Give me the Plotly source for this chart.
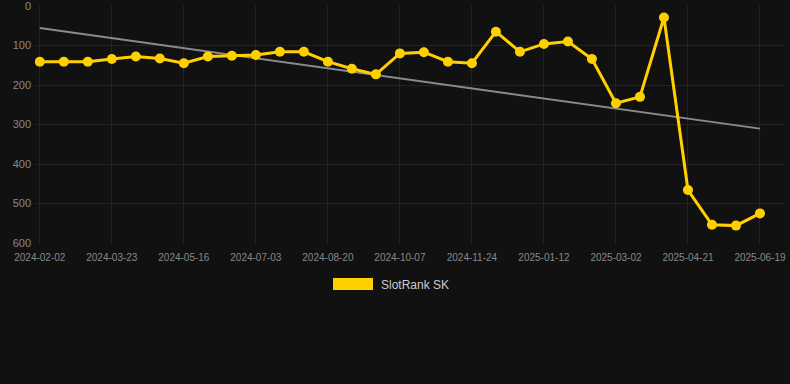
import numpy as np
import plotly.graph_objects as go

dates = ["2024-02-02", "2024-02-18", "2024-03-06", "2024-03-23", "2024-04-09", "2024-04-28",
         "2024-05-16", "2024-06-01", "2024-06-17", "2024-07-03", "2024-07-19", "2024-08-04",
         "2024-08-20", "2024-09-05", "2024-09-21", "2024-10-07", "2024-10-23", "2024-11-08",
         "2024-11-24", "2024-12-10", "2024-12-27", "2025-01-12", "2025-01-28", "2025-02-14",
         "2025-03-02", "2025-03-19", "2025-04-04", "2025-04-21", "2025-05-11", "2025-05-31",
         "2025-06-19"]
ranks = [141, 141, 141, 134, 128, 133, 145, 128, 126, 124, 116, 116, 141, 159, 173,
         120, 117, 141, 145, 65, 116, 96, 90, 134, 246, 230, 29, 466, 554, 556, 525]
tick_labels = dates[::3]
y_ticks = [0, 100, 200, 300, 400, 500, 600]

idx = np.arange(len(ranks))
slope, intercept = np.polyfit(idx, ranks, 1)
trend = [intercept, intercept + slope * idx[-1]]

L, T, PW, PH = 35, 6, 749, 237


def px(x):
    return (x - L) / PW


def py(y):
    return (T + PH - y) / PH


fig = go.Figure()
fig.add_trace(go.Scatter(x=[dates[0], dates[-1]], y=trend, mode="lines",
                         line=dict(color="#8a8a8a", width=2), showlegend=False,
                         hoverinfo="skip"))
fig.add_trace(go.Scatter(x=dates, y=ranks, mode="lines+markers", name="SlotRank SK",
                         line=dict(color="#FFD000", width=3),
                         marker=dict(color="#FFD000", size=10), showlegend=False))

fig.update_layout(
    width=790, height=384,
    paper_bgcolor="#111111", plot_bgcolor="#111111",
    margin=dict(l=L, r=790 - L - PW, t=T, b=384 - T - PH),
    font=dict(family="Liberation Sans, Arial, sans-serif", color="#888888"),
    xaxis=dict(type="category", categoryorder="array", categoryarray=dates,
               range=[-0.2, 31.0], tickvals=tick_labels, ticktext=tick_labels,
               showgrid=True, gridcolor="#232323", gridwidth=1, zeroline=False,
               tickfont=dict(size=10, color="#888888"), ticks="", showline=False,
               ticklabelstandoff=7, ticklabeloverflow="allow", automargin=False),
    yaxis=dict(range=[600, 0], tickvals=y_ticks, showgrid=True, gridcolor="#232323",
               zeroline=False, tickfont=dict(size=11, color="#888888"), ticks="",
               showline=False, ticklabeloverflow="allow", automargin=False,
               ticklabelstandoff=3),
    shapes=[dict(type="rect", xref="paper", yref="paper", x0=px(333), x1=px(373),
                 y0=py(290), y1=py(278), fillcolor="#FFD000", line=dict(width=0))],
    annotations=[dict(text="SlotRank SK", xref="paper", yref="paper",
                      x=px(379), y=py(285), xanchor="left", yanchor="middle",
                      showarrow=False, font=dict(size=12, color="#cccccc"))],
)

fig.write_html("out.html", config={"displayModeBar": False},
               post_script="document.body.style.margin='0';")
